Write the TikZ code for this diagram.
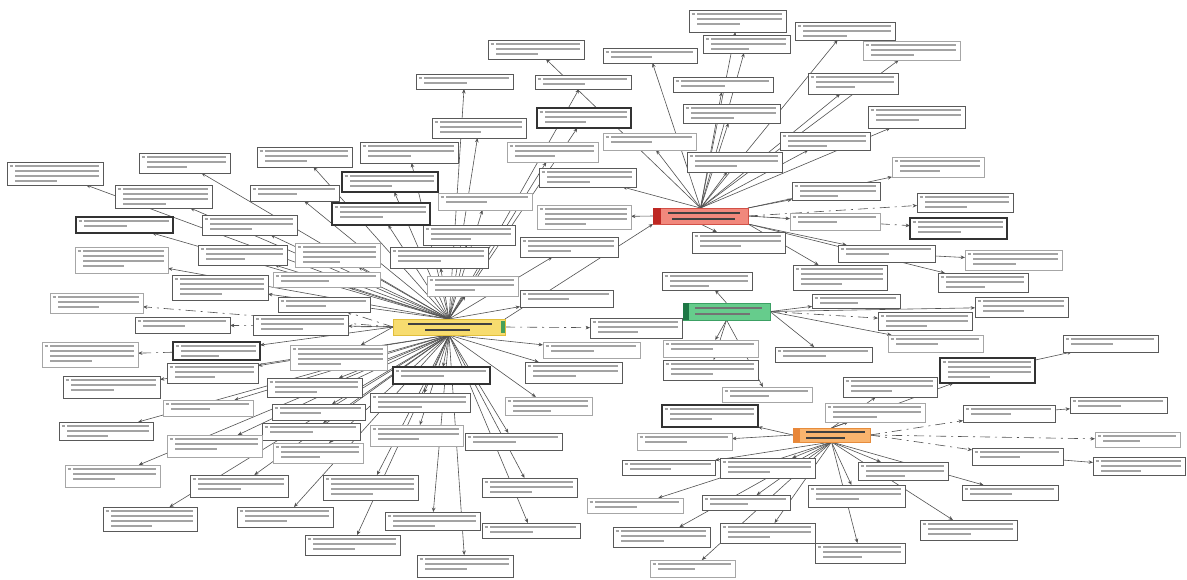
\documentclass[tikz,border=0pt]{standalone}
\usetikzlibrary{arrows.meta}
\pgfdeclarelayer{paper}
\pgfdeclarelayer{background}
\pgfsetlayers{paper,background,main}
\definecolor{yelfill}{RGB}{247,220,111}
\definecolor{yeldraw}{RGB}{225,190,60}
\definecolor{yeltip}{RGB}{70,160,90}
\definecolor{redfill}{RGB}{241,136,124}
\definecolor{reddraw}{RGB}{210,80,70}
\definecolor{redtip}{RGB}{190,40,35}
\definecolor{grnfill}{RGB}{102,204,140}
\definecolor{grndraw}{RGB}{60,160,100}
\definecolor{grntip}{RGB}{30,120,70}
\definecolor{orgfill}{RGB}{249,180,110}
\definecolor{orgdraw}{RGB}{230,140,60}
\definecolor{orgtip}{RGB}{232,135,58}
\tikzset{
  bx/.style={draw=black!65, line width=0.45pt, fill=white, inner sep=0pt, outer sep=0pt},
  bxk/.style={draw=black!80, line width=0.65pt, fill=white, inner sep=0pt, outer sep=0pt},
  bxl/.style={draw=black!35, line width=0.4pt, fill=white, inner sep=0pt, outer sep=0pt},
  txt/.style={draw=black!36, line width=0.85pt},
  conn/.style={draw=black!68, line width=0.3pt, -{Stealth[length=2.2pt,width=1.8pt]}},
  dconn/.style={conn, dash pattern=on 5pt off 2.5pt on 1pt off 2.5pt},
  hubtxt/.style={draw=black!75, line width=0.9pt},
  hub/.style={line width=0.3pt, inner sep=0pt, outer sep=0pt},
}
% citation box: name, x0, y0, x1, y1, style
\newcommand\mkbox[6]{%
  \pgfmathsetmacro\bw{(#4-#2)*0.5}%
  \pgfmathsetmacro\bh{(#5-#3)*0.5}%
  \node[#6, minimum width=\bw pt, minimum height=\bh pt] (b#1) at ({(#2+#4)/2},{(#3+#5)/2}) {};
  \pgfmathtruncatemacro\nr{max(1,floor((#5-#3-3)/5))}%
  \draw[txt] (#2+2.5,#3+4) -- (#2+6,#3+4);
  \foreach \k in {1,...,\nr}{%
    \pgfmathsetmacro\yy{#3+4+(\k-1)*5}%
    \pgfmathsetmacro\xe{ifthenelse(\k==\nr,#2+8+0.5*(#4-#2-12),#4-4)}%
    \draw[txt] (#2+8,\yy) -- (\xe,\yy);
  }%
}
\begin{document}
\begin{tikzpicture}[x=0.5pt,y=-0.5pt]
\begin{pgfonlayer}{paper}
\fill[white] (0,0) rectangle (1187,579);
\end{pgfonlayer}
\useasboundingbox (0,0) rectangle (1187,579);

% ---- hubs ----
\node[hub, fill=yelfill, draw=yeldraw, minimum width=56pt, minimum height=8pt] (Y) at (449,327) {};
\fill[yeltip] (501,321) rectangle (505,333);
\draw[hubtxt] (408,324) -- (492,324);
\draw[hubtxt] (425,330) -- (470,330);

\node[hub, fill=redfill, draw=reddraw, minimum width=47.5pt, minimum height=8pt] (R) at (700.5,216) {};
\fill[redtip] (653,208) rectangle (661,224);
\draw[hubtxt] (668,213) -- (740,213);
\draw[hubtxt] (672,219) -- (735,219);

\node[hub, fill=grnfill, draw=grndraw, minimum width=43.5pt, minimum height=8.5pt] (G) at (726.5,311.5) {};
\fill[grntip] (683,303) rectangle (689,320);
\draw[hubtxt,draw=black!55] (695,308) -- (762,308);
\draw[hubtxt,draw=black!55] (695,314) -- (750,314);

\node[hub, fill=orgfill, draw=orgdraw, minimum width=38.5pt, minimum height=7pt] (O) at (831.5,435) {};
\fill[orgtip] (793,428) rectangle (800,442);
\draw[hubtxt] (806,432) -- (865,432);
\draw[hubtxt] (806,438) -- (845,438);

% ---- citation boxes ----
\mkbox{1}{689}{10}{786}{32}{bx}
\mkbox{2}{703}{35}{790}{53}{bx}
\mkbox{3}{795}{22}{895}{40}{bx}
\mkbox{4}{863}{41}{960}{60}{bxl}
\mkbox{5}{808}{73}{898}{94}{bx}
\mkbox{6}{868}{106}{965}{128}{bx}
\mkbox{7}{780}{132}{870}{150}{bx}
\mkbox{8}{892}{157}{984}{177}{bxl}
\mkbox{9}{792}{182}{880}{200}{bx}
\mkbox{10}{917}{193}{1013}{212}{bx}
\mkbox{11}{790}{213}{880}{230}{bxl}
\mkbox{12}{910}{218}{1007}{239}{bxk}
\mkbox{13}{838}{245}{935}{262}{bx}
\mkbox{14}{965}{250}{1062}{270}{bxl}
\mkbox{15}{793}{265}{887}{290}{bx}
\mkbox{16}{938}{273}{1028}{292}{bx}
\mkbox{17}{488}{40}{584}{59}{bx}
\mkbox{18}{603}{48}{697}{63}{bx}
\mkbox{19}{416}{74}{513}{89}{bx}
\mkbox{20}{535}{75}{631}{89}{bx}
\mkbox{21}{673}{77}{773}{92}{bx}
\mkbox{22}{537}{108}{631}{128}{bxk}
\mkbox{23}{683}{104}{780}{123}{bx}
\mkbox{24}{432}{118}{526}{138}{bx}
\mkbox{25}{507}{142}{598}{162}{bxl}
\mkbox{26}{603}{133}{696}{150}{bxl}
\mkbox{27}{687}{152}{782}{172}{bx}
\mkbox{29}{539}{168}{636}{187}{bx}
\mkbox{30}{438}{193}{532}{210}{bxl}
\mkbox{31}{537}{205}{631}{229}{bxl}
\mkbox{32}{423}{225}{515}{245}{bx}
\mkbox{33}{520}{237}{618}{257}{bx}
\mkbox{34}{390}{247}{488}{268}{bx}
\mkbox{35}{692}{232}{785}{253}{bx}
\mkbox{36}{662}{272}{752}{290}{bx}
\mkbox{37}{427}{276}{518}{296}{bxl}
\mkbox{38}{7}{162}{103}{185}{bx}
\mkbox{39}{139}{153}{230}{173}{bx}
\mkbox{40}{257}{147}{352}{167}{bx}
\mkbox{41}{360}{142}{458}{163}{bx}
\mkbox{42}{115}{185}{212}{208}{bx}
\mkbox{43}{250}{185}{339}{201}{bx}
\mkbox{44}{342}{172}{438}{192}{bxk}
\mkbox{45}{332}{203}{430}{225}{bxk}
\mkbox{46}{76}{217}{173}{233}{bxk}
\mkbox{47}{202}{215}{297}{235}{bx}
\mkbox{48}{75}{247}{168}{273}{bxl}
\mkbox{49}{198}{245}{287}{265}{bx}
\mkbox{50}{295}{243}{380}{267}{bxl}
\mkbox{52}{172}{275}{268}{300}{bx}
\mkbox{53}{273}{272}{380}{287}{bxl}
\mkbox{54}{50}{293}{143}{313}{bxl}
\mkbox{55}{135}{317}{230}{333}{bx}
\mkbox{56}{253}{315}{348}{335}{bx}
\mkbox{57}{278}{297}{370}{312}{bx}
\mkbox{58}{42}{342}{138}{367}{bxl}
\mkbox{59}{173}{342}{260}{360}{bxk}
\mkbox{60}{167}{363}{258}{383}{bx}
\mkbox{61}{290}{345}{387}{370}{bxl}
\mkbox{62}{63}{376}{160}{398}{bx}
\mkbox{63}{163}{400}{253}{416}{bxl}
\mkbox{64}{267}{378}{362}{397}{bx}
\mkbox{65}{370}{393}{470}{412}{bx}
\mkbox{66}{59}{422}{153}{440}{bx}
\mkbox{67}{272}{404}{365}{420}{bx}
\mkbox{68}{262}{423}{360}{440}{bx}
\mkbox{69}{167}{435}{262}{457}{bxl}
\mkbox{70}{273}{443}{363}{463}{bxl}
\mkbox{71}{370}{425}{463}{446}{bxl}
\mkbox{72}{65}{465}{160}{487}{bxl}
\mkbox{73}{190}{475}{288}{497}{bx}
\mkbox{74}{323}{475}{418}{500}{bx}
\mkbox{76}{103}{507}{197}{531}{bx}
\mkbox{77}{237}{507}{333}{527}{bx}
\mkbox{78}{305}{535}{400}{555}{bx}
\mkbox{79}{385}{512}{480}{530}{bx}
\mkbox{80}{520}{290}{613}{307}{bx}
\mkbox{81}{590}{318}{682}{338}{bx}
\mkbox{82}{543}{342}{640}{358}{bxl}
\mkbox{83}{525}{362}{622}{383}{bx}
\mkbox{84}{393}{367}{490}{384}{bxk}
\mkbox{86}{505}{397}{592}{415}{bxl}
\mkbox{87}{465}{433}{562}{450}{bx}
\mkbox{88}{482}{478}{577}{497}{bx}
\mkbox{89}{482}{523}{580}{538}{bx}
\mkbox{90}{417}{555}{513}{577}{bx}
\mkbox{93}{663}{340}{758}{357}{bxl}
\mkbox{94}{663}{360}{758}{380}{bx}
\mkbox{95}{722}{387}{812}{402}{bxl}
\mkbox{96}{662}{405}{758}{427}{bxk}
\mkbox{97}{637}{433}{732}{450}{bxl}
\mkbox{98}{622}{460}{715}{475}{bx}
\mkbox{99}{720}{458}{815}{478}{bx}
\mkbox{100}{587}{498}{683}{513}{bxl}
\mkbox{101}{702}{495}{790}{510}{bx}
\mkbox{102}{613}{527}{710}{547}{bx}
\mkbox{103}{720}{523}{815}{543}{bx}
\mkbox{104}{650}{560}{735}{577}{bxl}
\mkbox{105}{812}{294}{900}{308}{bx}
\mkbox{106}{975}{297}{1068}{317}{bx}
\mkbox{107}{878}{312}{972}{330}{bx}
\mkbox{108}{888}{335}{983}{352}{bxl}
\mkbox{109}{1063}{335}{1158}{352}{bx}
\mkbox{110}{775}{347}{872}{362}{bx}
\mkbox{111}{940}{358}{1035}{383}{bxk}
\mkbox{112}{843}{377}{937}{397}{bx}
\mkbox{113}{825}{403}{925}{422}{bxl}
\mkbox{114}{963}{405}{1055}{422}{bx}
\mkbox{115}{1070}{397}{1167}{413}{bx}
\mkbox{116}{1095}{432}{1180}{447}{bxl}
\mkbox{117}{972}{448}{1063}{465}{bx}
\mkbox{118}{1093}{457}{1185}{475}{bx}
\mkbox{119}{858}{462}{948}{480}{bx}
\mkbox{120}{962}{485}{1058}{500}{bx}
\mkbox{121}{808}{485}{905}{507}{bx}
\mkbox{122}{920}{520}{1017}{540}{bx}
\mkbox{123}{815}{543}{905}{563}{bx}

% ---- connectors ----
\begin{pgfonlayer}{background}
\foreach \b/\a in {1/R.north,2/R.north,3/R.north,4/R.north,5/R.north,6/R.north,
  7/R.north,8/R.north east,9/R.north east,11/R.east,13/R.south east,15/R.south east,
  16/R.south east,17/R.north,18/R.north,21/R.north,23/R.north,26/R.north,27/R.north,
  29/R.north,31/R.west,35/R.south}
  \draw[conn] (\a) -- (b\b);
\foreach \b/\a in {10/R.east,12/R.east}
  \draw[dconn] (\a) -- (b\b);
\foreach \b/\a in {19/Y.north,20/Y.north,22/Y.north,24/Y.north,25/Y.north,30/Y.north,
  32/Y.north,33/Y.north,34/Y.north,37/Y.north,38/Y.north,39/Y.north,40/Y.north,
  41/Y.north,42/Y.north,43/Y.north,44/Y.north,45/Y.north,46/Y.north,47/Y.north,
  48/Y.north,49/Y.north,50/Y.north,52/Y.north,53/Y.north,80/Y.north,
  56/Y.west,59/Y.west,61/Y.west,
  60/Y.south,62/Y.south,63/Y.south,64/Y.south,65/Y.south,66/Y.south,67/Y.south,
  68/Y.south,69/Y.south,70/Y.south,71/Y.south,72/Y.south,73/Y.south,74/Y.south,
  76/Y.south,77/Y.south,78/Y.south,79/Y.south,82/Y.south,83/Y.south,84/Y.south,
  86/Y.south,87/Y.south,88/Y.south,89/Y.south,90/Y.south}
  \draw[conn] (\a) -- (b\b);
\foreach \b/\a in {54/Y.west,55/Y.west,57/Y.west,81/Y.east}
  \draw[dconn] (\a) -- (b\b);
\foreach \b/\a in {36/G.north,93/G.south,94/G.south,95/G.south,105/G.east,
  106/G.east,108/G.east,110/G.east}
  \draw[conn] (\a) -- (b\b);
\foreach \b/\a in {107/G.east}
  \draw[dconn] (\a) -- (b\b);
\foreach \b/\a in {96/O.west,97/O.west,98/O.south,99/O.south,100/O.south,
  101/O.south,102/O.south,103/O.south,104/O.south,111/O.north,112/O.north,
  113/O.north,119/O.south,120/O.south,121/O.south,122/O.south,123/O.south}
  \draw[conn] (\a) -- (b\b);
\foreach \b/\a in {114/O.east,116/O.east,117/O.east}
  \draw[dconn] (\a) -- (b\b);
% box-to-box links and hub-to-hub links
\draw[conn] (b114) -- (b115);
\draw[conn] (b117) -- (b118);
\draw[conn] (b111) -- (b109);
\draw[conn] (b13) -- (b14);
\draw[dconn] (b59) -- (b58);
\draw[dconn] (b81) -- (G);
\draw[conn] (Y.north east) -- (R.south west);
\end{pgfonlayer}
\end{tikzpicture}
\end{document}
